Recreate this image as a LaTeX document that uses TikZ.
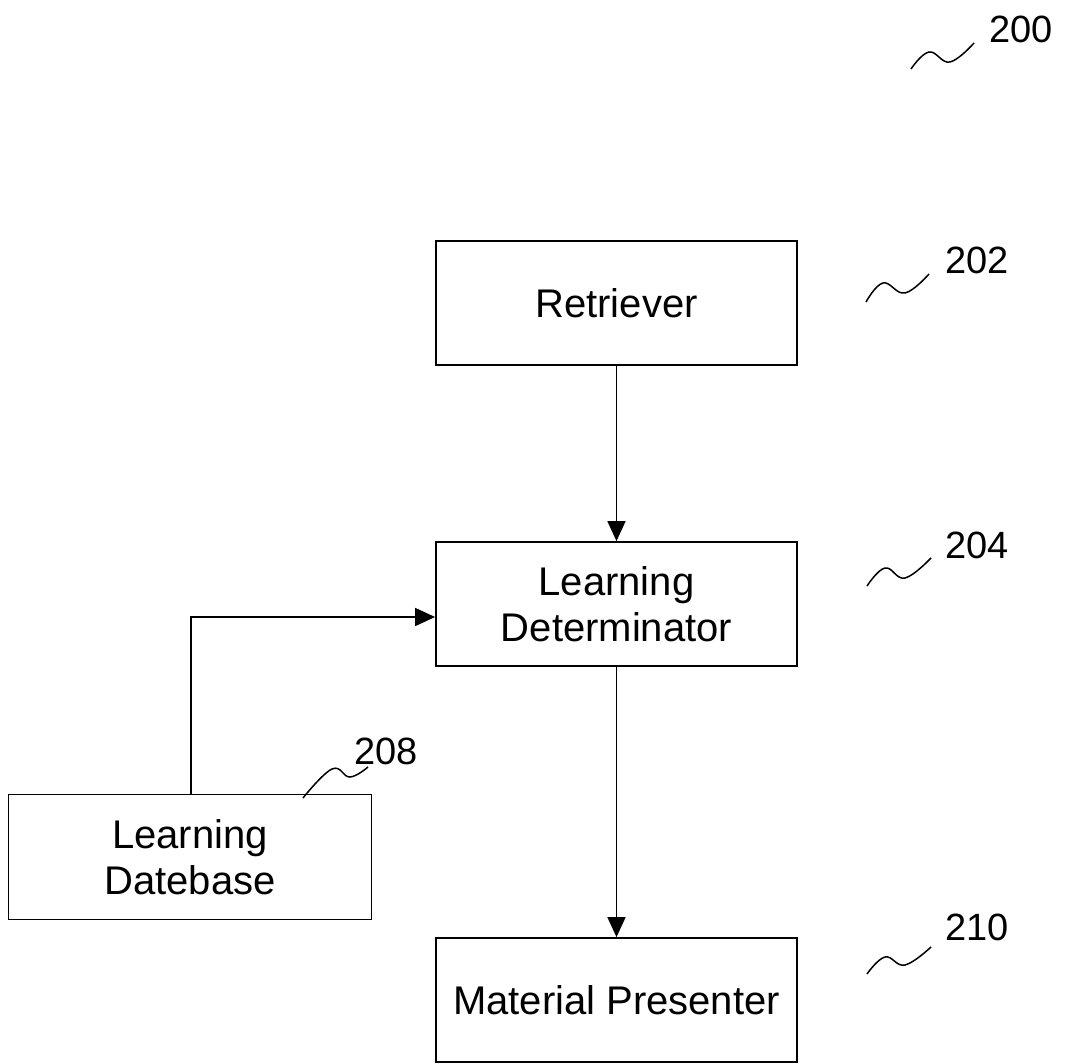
\documentclass[tikz,border=0pt]{standalone}
\usepackage{fontspec}
\setmainfont{Liberation Sans}
\usetikzlibrary{arrows.meta,calc}
\begin{document}
\begin{tikzpicture}[x=1pt,y=-1pt,
  blk/.style={draw,line width=1.8pt,minimum width=361pt,minimum height=124pt,inner sep=0pt,align=center,font=\fontsize{40}{46}\selectfont},
  refnum/.style={inner sep=0pt,font=\fontsize{38}{42}\selectfont},
  arr/.style={line width=1.6pt,-{Triangle[length=20pt,width=18pt]}},
  squig/.style={line width=1.5pt,smooth,tension=0.7}]
\useasboundingbox (0,0) rectangle (1068,1064);
\node[blk] (ret) at (616.5,303) {Retriever};
\node[blk] (ld) at (616.5,604) {Learning\\Determinator};
\node[blk,minimum width=363pt,minimum height=125pt] (ldb) at (190,857) {Learning\\Datebase};
\node[blk] (mp) at (616.5,1000) {Material Presenter};
\draw[arr] (ret.south) -- (ld.north);
\draw[arr] (ld.south) -- (mp.north);
\draw[arr] ($(ldb.north)+(1,0)$) |- ($(ld.west)+(0,13)$);
\node[refnum] (n200) at (1021,29) {200};
\node[refnum] (n202) at (977,260) {202};
\node[refnum] (n204) at (977,545) {204};
\node[refnum] (n208) at (386,751) {208};
\node[refnum] (n210) at (977,927) {210};
\draw[squig] plot coordinates {(911,69) (929,52) (950,62) (974,43)};
\draw[squig] plot coordinates {(866,302) (883,283) (905,293) (929,274)};
\draw[squig] plot coordinates {(867,586) (885,568) (905,578) (931,558)};
\draw[squig] plot coordinates {(303,798) (332,769) (350,777) (368,767)};
\draw[squig] plot coordinates {(867,974) (885,957) (905,965) (931,947)};
\end{tikzpicture}
\end{document}
